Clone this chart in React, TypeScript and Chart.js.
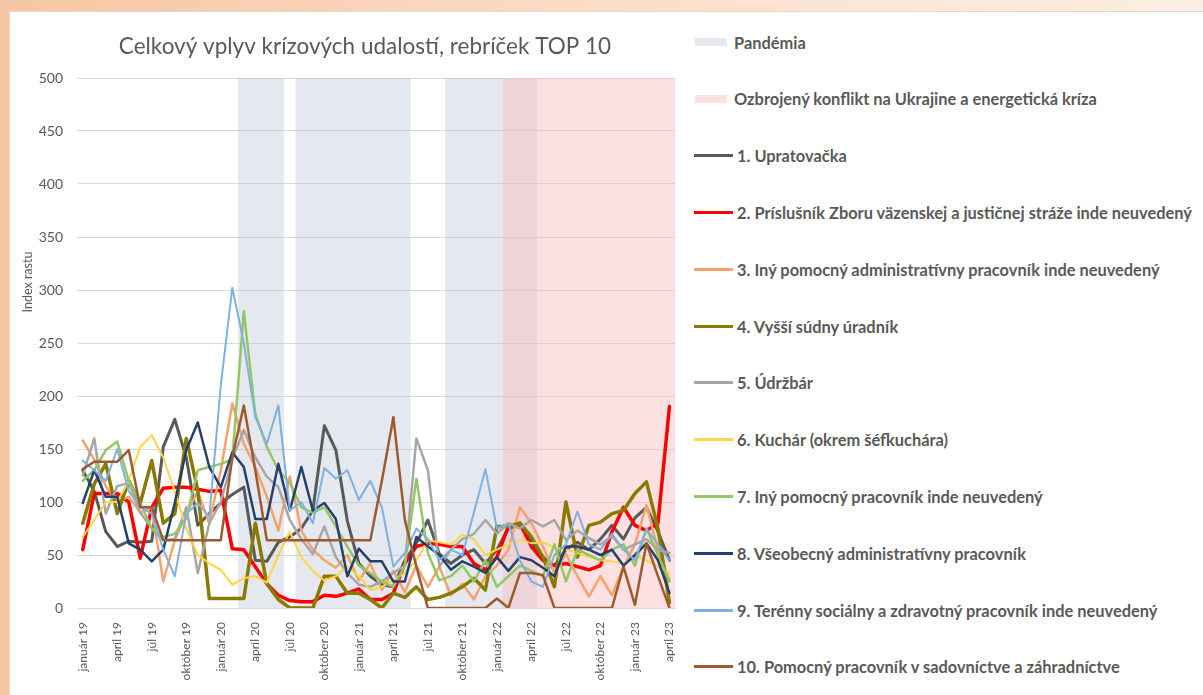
import React, { useEffect, useRef } from "react";
import { Chart, registerables } from "chart.js";

Chart.register(...registerables);

// ---- categories ----
const months: string[] = [
  "január 19", "február 19", "marec 19", "apríl 19", "máj 19", "jún 19", "júl 19", "august 19", "september 19", "október 19", "november 19", "december 19",
  "január 20", "február 20", "marec 20", "apríl 20", "máj 20", "jún 20", "júl 20", "august 20", "september 20", "október 20", "november 20", "december 20",
  "január 21", "február 21", "marec 21", "apríl 21", "máj 21", "jún 21", "júl 21", "august 21", "september 21", "október 21", "november 21", "december 21",
  "január 22", "február 22", "marec 22", "apríl 22", "máj 22", "jún 22", "júl 22", "august 22", "september 22", "október 22", "november 22", "december 22",
  "január 23", "február 23", "marec 23", "apríl 23",
];

// shaded periods [first month, last month]
const pandemicPeriods: [string, string][] = [
  ["marec 20", "jún 20"],
  ["august 20", "máj 21"],
  ["september 21", "apríl 22"],
];
const conflictPeriods: [string, string][] = [["február 22", "apríl 23"]];

// ---- series ----
const upratovacka = [130,110,72,58,63,62,63,152,178,142,78,89,99,107,114,45,44,62,67,75,92,172,149,82,42,30,22,20,45,61,83,51,42,50,55,42,55,75,78,62,48,40,55,62,55,65,78,65,85,95,72,45];
const prislusnik = [55,108,108,108,100,47,95,113,114,114,112,110,111,56,55,39,23,12,7,6,6,12,11,14,18,8,8,14,42,58,61,60,58,58,42,36,48,77,80,58,45,40,42,39,36,40,72,95,78,73,80,190];
const pomocnyAdmin = [158,140,115,100,105,90,95,25,64,89,110,80,130,193,155,133,105,73,124,73,55,45,38,50,26,42,17,35,15,40,20,39,12,23,8,30,40,55,95,80,58,33,51,30,11,30,12,39,60,97,55,26];
const sudnyUradnik = [80,117,136,89,120,99,139,80,89,160,111,9,9,9,9,80,23,8,0,0,0,30,30,14,14,8,0,14,10,20,8,10,14,20,28,17,77,77,80,67,48,20,100,48,78,81,89,92,108,119,75,5];
const udrzbar = [125,160,89,115,118,90,75,64,65,95,33,80,100,140,168,142,124,114,83,65,51,77,48,33,22,20,25,33,40,160,130,39,55,65,70,83,70,80,75,83,77,83,64,73,66,60,68,55,60,65,55,52];
const kuchar = [67,83,100,100,120,152,163,142,110,75,50,42,36,22,28,30,24,50,72,48,35,26,30,39,30,17,20,26,33,45,64,62,60,69,65,50,55,60,65,61,62,57,55,52,48,45,44,42,50,45,39,33];
const pomocnyPracovnik = [120,130,149,157,120,99,75,67,70,85,130,133,136,140,280,183,152,130,118,95,90,95,77,58,40,33,25,20,40,122,52,26,30,40,25,45,20,30,40,35,30,60,25,55,50,45,55,60,40,75,50,25];
const vseobecnyAdmin = [99,130,105,105,61,55,44,55,99,149,175,133,114,147,133,84,84,136,92,133,92,99,84,30,56,44,44,25,25,67,58,50,36,44,39,33,48,35,48,45,38,30,58,58,55,50,55,40,50,61,45,14];
const terenny = [139,130,120,150,110,95,89,55,30,89,99,86,210,302,250,180,155,191,92,100,80,132,122,130,102,120,95,39,52,75,65,45,55,50,90,131,75,80,45,25,20,50,60,91,60,55,70,55,45,75,60,45];
const sadovnictvo = [131,138,138,138,149,95,95,64,64,64,64,64,64,142,191,130,64,64,64,64,64,64,64,64,64,64,120,180,83,39,0,0,0,0,0,0,9,0,33,33,31,0,0,0,0,0,0,39,3,61,30,0];

const seriesNames = [
  "1. Upratovačka",
  "2. Príslušník Zboru väzenskej a justičnej stráže inde neuvedený",
  "3. Iný pomocný administratívny pracovník inde neuvedený",
  "4. Vyšší súdny úradník",
  "5. Údržbár",
  "6. Kuchár (okrem šéfkuchára)",
  "7. Iný pomocný pracovník inde neuvedený",
  "8. Všeobecný administratívny pracovník",
  "9. Terénny sociálny a zdravotný pracovník inde neuvedený",
  "10. Pomocný pracovník v sadovníctve a záhradníctve",
];
const seriesValues = [upratovacka, prislusnik, pomocnyAdmin, sudnyUradnik, udrzbar, kuchar, pomocnyPracovnik, vseobecnyAdmin, terenny, sadovnictvo];
const seriesColors = ["#595959", "#FF0000", "#F5A26B", "#8A7A00", "#A6A6A6", "#FFD447", "#93C664", "#26406E", "#7EB0E0", "#9C5A2E"];
const seriesWidths = [3, 3.5, 2.5, 3.5, 2.5, 2, 2.5, 2.5, 2, 2.5];

const chartTitle = "Celkový vplyv krízových udalostí, rebríček TOP 10";
const yAxisTitle = "Index rastu";
const pandemicName = "Pandémia";
const conflictName = "Ozbrojený konflikt na Ukrajine a energetická kríza";
const pandemicFill = "rgba(186,192,210,0.36)";
const conflictFill = "rgba(248,186,190,0.45)";
const yTicks = [0, 50, 100, 150, 200, 250, 300, 350, 400, 450, 500];

const TEXT = "#595959";
const FONT = "Lato, 'Open Sans', sans-serif";

// shaded bands drawn behind the lines, positioned through the chart's own scales
const shadingPlugin = {
  id: "periodShading",
  beforeDatasetsDraw(chart: any) {
    const { ctx, scales } = chart;
    const x = scales.x;
    const y = scales.y;
    const half = (x.getPixelForValue(1) - x.getPixelForValue(0)) / 2;
    const top = y.getPixelForValue(yTicks[yTicks.length - 1]);
    const bottom = y.getPixelForValue(yTicks[0]);
    const paint = (periods: [string, string][], color: string) => {
      ctx.fillStyle = color;
      periods.forEach(([a, b]) => {
        const x0 = x.getPixelForValue(months.indexOf(a)) - half;
        const x1 = x.getPixelForValue(months.indexOf(b)) + half;
        ctx.fillRect(x0, top, x1 - x0, bottom - top);
      });
    };
    ctx.save();
    paint(pandemicPeriods, pandemicFill);
    paint(conflictPeriods, conflictFill);
    ctx.restore();
  },
};

const textPlugin = {
  id: "titles",
  afterDraw(chart: any) {
    const { ctx, chartArea } = chart;
    ctx.save();
    ctx.fillStyle = TEXT;
    ctx.textAlign = "center";
    ctx.textBaseline = "middle";
    ctx.font = `22.5px ${FONT}`;
    ctx.fillText(chartTitle, chartArea.left + 288, chartArea.top - 31);
    ctx.translate(chartArea.left - 49, chartArea.top + 204);
    ctx.rotate(-Math.PI / 2);
    ctx.font = `12.5px ${FONT}`;
    ctx.fillText(yAxisTitle, 0, 0);
    ctx.restore();
  },
};

export default function App() {
  const ref = useRef<HTMLCanvasElement | null>(null);

  useEffect(() => {
    if (!ref.current) return;
    const lineSets = seriesValues.map((vals, k) => ({
      type: "line" as const,
      label: seriesNames[k],
      data: vals,
      borderColor: seriesColors[k],
      backgroundColor: seriesColors[k],
      borderWidth: seriesWidths[k],
      pointRadius: 0,
      tension: 0,
      borderJoinStyle: "round" as const,
      borderCapStyle: "round" as const,
      order: 20 - k,
    }));
    const chart = new Chart(ref.current, {
      type: "line",
      data: { labels: months, datasets: lineSets },
      options: {
        animation: false,
        responsive: false,
        events: [],
        layout: { padding: { left: 26, right: 14, top: 66, bottom: 0 } },
        plugins: {
          legend: { display: false },
          tooltip: { enabled: false },
          title: { display: false },
        },
        scales: {
          x: {
            type: "category",
            offset: true,
            grid: { display: false, offset: true },
            border: { display: true, color: "#D9D9D9" },
            ticks: {
              autoSkip: false,
              maxRotation: 90,
              minRotation: 90,
              padding: 6,
              color: TEXT,
              font: { family: FONT, size: 12 },
              callback: (_v: any, i: number) => (i % 3 === 0 ? months[i] : ""),
            },
            afterFit: (s: any) => {
              s.height = 87;
            },
          },
          y: {
            min: yTicks[0],
            max: yTicks[yTicks.length - 1],
            afterBuildTicks: (s: any) => {
              s.ticks = yTicks.map((v) => ({ value: v }));
            },
            grid: { color: "#D9D9D9", drawTicks: false, lineWidth: 1 },
            border: { display: false },
            ticks: { padding: 14, color: TEXT, font: { family: FONT, size: 14 } },
            afterFit: (s: any) => {
              s.width = 41;
            },
          },
        },
      },
      plugins: [shadingPlugin, textPlugin],
    });
    return () => chart.destroy();
  }, []);

  const legendItems = [
    { name: pandemicName, color: pandemicFill, rect: true },
    { name: conflictName, color: conflictFill, rect: true },
    ...seriesNames.map((n, k) => ({ name: n, color: seriesColors[k], rect: false })),
  ];

  return (
    <div
      style={{
        position: "fixed",
        left: 0,
        top: 0,
        width: 1203,
        height: 695,
        overflow: "hidden",
        background: "linear-gradient(90deg, #F6C6A3 0%, #F9D6BD 35%, #FBE6D6 70%, #FCEEE3 100%)",
      }}
    >
      <div
        style={{
          position: "absolute",
          left: 10,
          top: 12,
          width: 1193,
          height: 683,
          background: "#FFFFFF",
          boxShadow: "0 0 0 1px #E3DAC6",
        }}
      >
        <canvas ref={ref} width={680} height={683} style={{ position: "absolute", left: 0, top: 0, width: 680, height: 683 }} />
        {legendItems.map((it, k) => (
          <div
            key={it.name}
            style={{
              position: "absolute",
              left: 684,
              top: 30 + k * 56.8 - 11,
              height: 22,
              display: "flex",
              alignItems: "center",
              whiteSpace: "nowrap",
              fontFamily: FONT,
              fontWeight: 700,
              fontSize: 16.4,
              color: TEXT,
            }}
          >
            {it.rect ? (
              <span style={{ display: "inline-block", flex: "none", width: 32, height: 8, background: it.color, marginLeft: 1, marginRight: 7 }} />
            ) : (
              <span style={{ display: "inline-block", flex: "none", width: 39, height: 3, background: it.color, marginRight: 4 }} />
            )}
            <span>{it.name}</span>
          </div>
        ))}
      </div>
    </div>
  );
}
